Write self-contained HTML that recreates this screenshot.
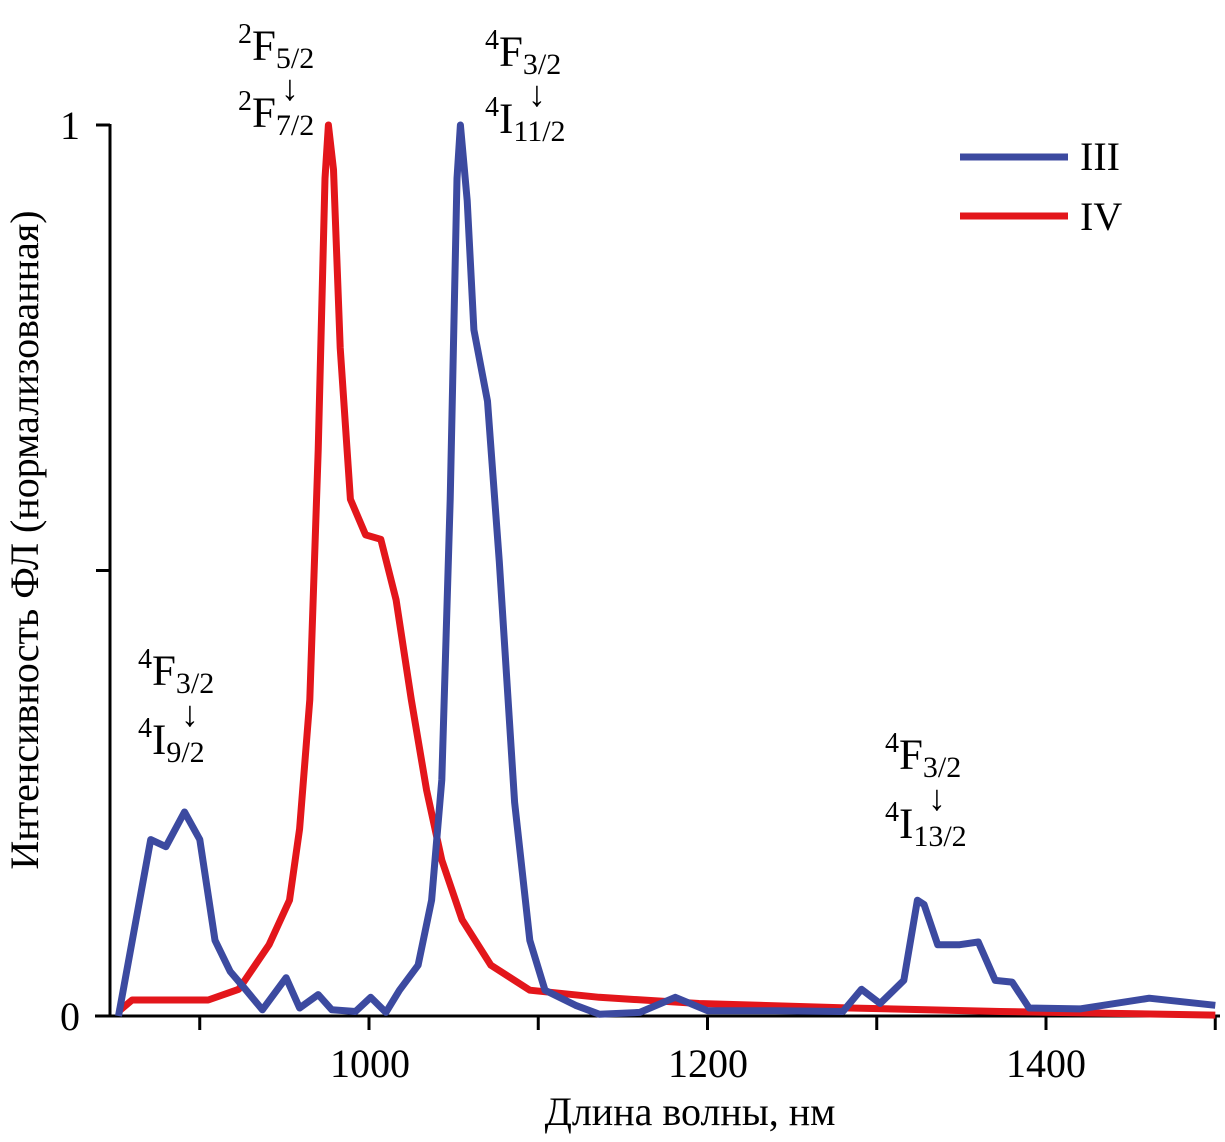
<!DOCTYPE html>
<html><head><meta charset="utf-8"><style>
body{margin:0;background:#fff}
svg text{font-family:"Liberation Serif",serif;fill:#000}
</style></head><body>
<svg width="1225" height="1137" viewBox="0 0 1225 1137" id="chart">
<g id="axes"></g>
<g id="series"></g>
<text x="370" y="1077" font-size="40" text-anchor="middle">1000</text>
<text x="708" y="1077" font-size="40" text-anchor="middle">1200</text>
<text x="1046" y="1077" font-size="40" text-anchor="middle">1400</text>
<text x="80" y="1030" font-size="40" text-anchor="end">0</text>
<text x="80" y="139" font-size="40" text-anchor="end">1</text>
<text x="690" y="1125" font-size="40" text-anchor="middle">Длина волны, нм</text>
<text transform="translate(38,540) rotate(-90)" font-size="40" text-anchor="middle">Интенсивность ФЛ (нормализованная)</text>
<g>
<line x1="960" y1="157" x2="1068" y2="157" stroke="#3c4aa0" stroke-width="7"/>
<text x="1080" y="170" font-size="40">III</text>
<line x1="960" y1="216" x2="1068" y2="216" stroke="#e3161b" stroke-width="7"/>
<text x="1080" y="230" font-size="40">IV</text>
</g>
<g>
<text x="238" y="60" font-size="43"><tspan font-size="28" dy="-17">2</tspan><tspan dy="17">F</tspan><tspan font-size="30" dy="8">5/2</tspan></text>
<text x="238" y="127" font-size="43"><tspan font-size="28" dy="-17">2</tspan><tspan dy="17">F</tspan><tspan font-size="30" dy="8">7/2</tspan></text>
<text x="290" y="100" font-size="36" text-anchor="middle">↓</text>
</g>
<g>
<text x="485" y="66" font-size="43"><tspan font-size="28" dy="-17">4</tspan><tspan dy="17">F</tspan><tspan font-size="30" dy="8">3/2</tspan></text>
<text x="485" y="133" font-size="43"><tspan font-size="28" dy="-17">4</tspan><tspan dy="17">I</tspan><tspan font-size="30" dy="8">11/2</tspan></text>
<text x="537" y="106" font-size="36" text-anchor="middle">↓</text>
</g>
<g>
<text x="138" y="685" font-size="43"><tspan font-size="28" dy="-17">4</tspan><tspan dy="17">F</tspan><tspan font-size="30" dy="8">3/2</tspan></text>
<text x="138" y="754" font-size="43"><tspan font-size="28" dy="-17">4</tspan><tspan dy="17">I</tspan><tspan font-size="30" dy="8">9/2</tspan></text>
<text x="190" y="726" font-size="36" text-anchor="middle">↓</text>
</g>
<g>
<text x="885" y="769" font-size="43"><tspan font-size="28" dy="-17">4</tspan><tspan dy="17">F</tspan><tspan font-size="30" dy="8">3/2</tspan></text>
<text x="885" y="838" font-size="43"><tspan font-size="28" dy="-17">4</tspan><tspan dy="17">I</tspan><tspan font-size="30" dy="8">13/2</tspan></text>
<text x="937" y="810" font-size="36" text-anchor="middle">↓</text>
</g>
</svg>
<script>
const wlIII=[852,871,880,891,900,909,918,927,937,951,959,970,978,992,1001,1010,1018,1029,1037,1043,1048,1052,1054,1058,1062,1070,1077,1086,1095,1104,1122,1136,1160,1181,1200,1240,1280,1291,1302,1316,1324,1328,1336,1349,1360,1370,1380,1390,1420,1461,1500];
const valIII=[0,0.198,0.19,0.229,0.198,0.085,0.05,0.03,0.007,0.043,0.009,0.024,0.007,0.005,0.021,0.004,0.029,0.057,0.13,0.265,0.58,0.94,1,0.915,0.77,0.69,0.51,0.24,0.085,0.029,0.012,0.002,0.004,0.021,0.006,0.006,0.005,0.03,0.014,0.04,0.13,0.125,0.08,0.08,0.083,0.04,0.038,0.009,0.008,0.02,0.012];
const wlIV=[852,860,905,923,941,953,959,965,970,974,976,979,983,989,998,1007,1016,1025,1034,1043,1055,1072,1095,1136,1195,1284,1373,1500];
const valIV=[0.005,0.018,0.018,0.03,0.08,0.13,0.21,0.355,0.635,0.94,1,0.95,0.75,0.58,0.54,0.535,0.467,0.355,0.254,0.175,0.108,0.057,0.029,0.021,0.014,0.009,0.005,0.001];
const xTicks=[900,1000,1100,1200,1300,1400,1500];
const yTicks=[0,0.5,1];
const NS='http://www.w3.org/2000/svg';
const X=l=>369+(l-1000)*1.6925;
const Y=v=>1016-v*891;
const axes=document.getElementById('axes');
function ln(x1,y1,x2,y2){const e=document.createElementNS(NS,'line');e.setAttribute('x1',x1);e.setAttribute('y1',y1);e.setAttribute('x2',x2);e.setAttribute('y2',y2);e.setAttribute('stroke','#000');e.setAttribute('stroke-width','3');axes.appendChild(e);return e;}
let a=ln(95,1016,1220,1016);


a=ln(110,1016,110,124);


xTicks.forEach(t=>{const e=ln(X(t),1016,X(t),1030);

});
yTicks.forEach(t=>{const e=ln(96,Y(t),110,Y(t));

});
const ser=document.getElementById('series');
function draw(wl,v,c,n){const p=document.createElementNS(NS,'polyline');
p.setAttribute('points',wl.map((l,i)=>X(l).toFixed(1)+','+Y(v[i]).toFixed(1)).join(' '));
p.setAttribute('fill','none');p.setAttribute('stroke',c);p.setAttribute('stroke-width','7');p.setAttribute('stroke-linejoin','round');


ser.appendChild(p);}
draw(wlIV,valIV,'#e3161b','series-iv-line');
draw(wlIII,valIII,'#3c4aa0','series-iii-line');
</script>
</body></html>
